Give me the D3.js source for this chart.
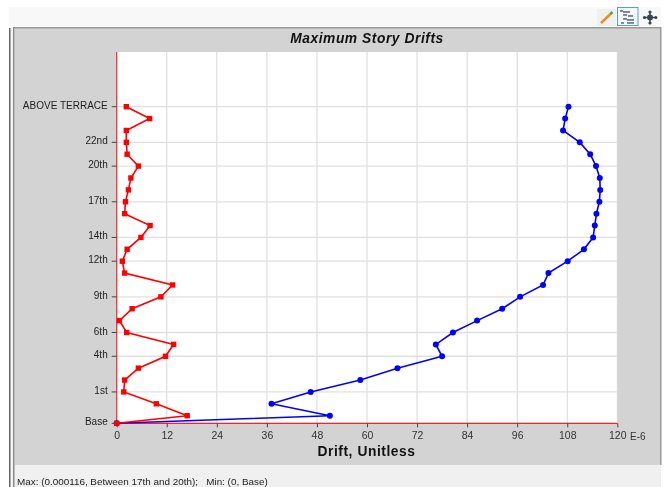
<!DOCTYPE html>
<html><head><meta charset="utf-8">
<script src="https://cdn.jsdelivr.net/npm/d3@7/dist/d3.min.js"></script>
<style>html,body{margin:0;padding:0;background:#fff;overflow:hidden}svg{display:block;font-family:"Liberation Sans",Arial,sans-serif;filter:blur(0.35px)}</style>
</head><body><svg id="c" width="667" height="487"></svg>
<script>
const title = "Maximum Story Drifts";
const xTitle = "Drift, Unitless";
const footer = "Max: (0.000116, Between 17th and 20th);   Min: (0, Base)";
const xTicks = [0,12,24,36,48,60,72,84,96,108,120];
// Story levels, bottom to top; elevation is in story heights
const elevations = [0,0.64,1.64,2.64,3.64,4.64,5.64,6.64,7.64,8.64,9.64,10.64,11.64,12.64,13.64,14.64,15.64,16.64,17.64,18.64,19.64,20.64,21.64,22.64,23.64,24.64,25.64,26.64];
const levelLabels = ["Base","","","1st","","","4th","","6th","","","9th","","","12th","","14th","","","17th","","","20th","","22nd","","","ABOVE TERRACE"];
const redDrift = [0,16.9,9.5,1.7,1.9,5.2,11.7,13.65,2.4,0.65,3.7,10.6,13.4,1.9,1.35,2.5,5.8,8.0,1.9,2.1,2.8,3.4,5.2,2.5,2.3,2.3,7.9,2.3];
const blueDrift = [0,51.1,37.1,46.5,58.4,67.3,78,76.5,80.6,86.4,92.4,96.7,102.2,103.5,108.1,112,114.2,114.6,115,115.7,115.9,115.8,114.9,113.5,111,107,107.5,108.3];

const svg = d3.select("#c");
const L=116.7,R=617.3,T=52,B=423.3;
const x=d3.scaleLinear().domain([0,120]).range([L,R]);
const y=d3.scaleLinear().domain([0,26.64]).range([B,106.7]);

// Window chrome
svg.append("rect").attr("x",9).attr("y",7).attr("width",652).attr("height",20).attr("fill","#f8f8f8");
svg.append("rect").attr("x",9).attr("y",27).attr("width",652).attr("height",460).attr("fill","#f4f4f4");
svg.append("rect").attr("x",15).attr("y",28).attr("width",646).attr("height",437).attr("fill","#d3d3d3");
svg.append("rect").attr("x",15).attr("y",465).attr("width",646).attr("height",22).attr("fill","#f0f0f0");
svg.append("rect").attr("x",9).attr("y",28).attr("width",1.5).attr("height",459).attr("fill","#666");
svg.append("rect").attr("x",13).attr("y",27).attr("width",648).attr("height",1.5).attr("fill","#999");
svg.append("rect").attr("x",13).attr("y",27).attr("width",1.5).attr("height",460).attr("fill","#888");
svg.append("rect").attr("x",660).attr("y",27).attr("width",1.5).attr("height",438).attr("fill","#999");

// Toolbar icons
const tb=svg.append("g");
tb.append("rect").attr("x",597).attr("y",9).attr("width",19).attr("height",17).attr("fill","#f0f0f0");
tb.append("line").attr("x1",601).attr("y1",23).attr("x2",610).attr("y2",14.5).attr("stroke","#e8921c").attr("stroke-width",2.6);
tb.append("line").attr("x1",610).attr("y1",14.5).attr("x2",612.5).attr("y2",12).attr("stroke","#7a9a50").attr("stroke-width",2.6);
tb.append("rect").attr("x",617.5).attr("y",7.5).attr("width",20.5).attr("height",18).attr("fill","#f2f7fc").attr("stroke","#5b9bd5").attr("stroke-width",1);
[[620,11,3],[623,12,7],[623,15,4],[628,16,5],[623,19,4],[627,20,7],[627,23,7],[621,23,3]].forEach(d=>tb.append("rect").attr("x",d[0]).attr("y",d[1]-0.8).attr("width",d[2]).attr("height",1.5).attr("fill","#55697d"));
tb.append("line").attr("x1",643.5).attr("y1",17.5).attr("x2",657).attr("y2",17.5).attr("stroke","#3a4450").attr("stroke-width",1.4);
tb.append("line").attr("x1",650).attr("y1",11).attr("x2",650).attr("y2",24).attr("stroke","#3a4450").attr("stroke-width",1.4);
[[650,17.5,3],[644.5,17.5,1.6],[655.8,17.5,1.6],[650,12,1.6],[650,23,1.6]].forEach(d=>tb.append("circle").attr("cx",d[0]).attr("cy",d[1]).attr("r",d[2]).attr("fill","#3a4450"));

// Plot
svg.append("rect").attr("x",L).attr("y",T).attr("width",R-L).attr("height",B-T).attr("fill","#fff");
const labelled=elevations.map((e,i)=>({e,l:levelLabels[i]})).filter(d=>d.l);
svg.append("g").selectAll("line").data(xTicks.slice(1)).join("line")
  .attr("x1",d=>x(d)).attr("x2",d=>x(d)).attr("y1",T).attr("y2",B).attr("stroke","#d8d8d8").attr("stroke-width",1);
svg.append("g").selectAll("line").data(labelled).join("line")
  .attr("x1",L).attr("x2",R).attr("y1",d=>y(d.e)).attr("y2",d=>y(d.e)).attr("stroke","#e0e0e0").attr("stroke-width",1.3);

// Axes
const xAxis=d3.axisBottom(x).tickValues(xTicks).tickSize(4).tickPadding(4);
const gx=svg.append("g").attr("transform",`translate(0,${B})`).call(xAxis);
gx.select(".domain").attr("stroke","#ff2020").attr("stroke-width",1.3).attr("d",`M${L},0H${R}`);
gx.selectAll(".tick line").attr("stroke","#444");
gx.selectAll("text").attr("font-size",10.5).attr("fill","#333").attr("font-family","Liberation Sans");
svg.append("line").attr("x1",L).attr("x2",L).attr("y1",T).attr("y2",B).attr("stroke","#ff3030").attr("stroke-width",1.3);
const gy=svg.append("g").attr("transform",`translate(${L},0)`);
gy.selectAll("line").data(labelled).join("line").attr("x1",-5).attr("x2",0).attr("y1",d=>y(d.e)).attr("y2",d=>y(d.e)).attr("stroke","#444");
gy.selectAll("text").data(labelled).join("text").attr("x",-9).attr("y",d=>y(d.e)).attr("dy","0.2em").attr("text-anchor","end").attr("font-size",10).attr("fill","#222").text(d=>d.l);

// Series
const line=()=>d3.line().x(v=>x(v)).y((v,i)=>y(elevations[i]));
svg.append("path").attr("d",line()(blueDrift)).attr("fill","none").attr("stroke","#0000ff").attr("stroke-width",1.6);
svg.append("g").selectAll("circle").data(blueDrift).join("circle").attr("cx",d=>x(d)).attr("cy",(d,i)=>y(elevations[i])).attr("r",3).attr("fill","#0000ff");
svg.append("path").attr("d",line()(redDrift)).attr("fill","none").attr("stroke","#ff0000").attr("stroke-width",1.6);
svg.append("g").selectAll("rect").data(redDrift).join("rect").attr("x",d=>x(d)-2.7).attr("y",(d,i)=>y(elevations[i])-2.7).attr("width",5.4).attr("height",5.4).attr("fill","#ff0000");

// Text
svg.append("text").attr("x",367).attr("y",43).attr("text-anchor","middle").attr("font-size",13.8).attr("font-weight","bold").attr("font-style","italic").attr("letter-spacing",0.55).attr("fill","#111").text(title);
svg.append("text").attr("x",366.5).attr("y",456).attr("text-anchor","middle").attr("font-size",13.8).attr("font-weight","bold").attr("letter-spacing",0.55).attr("fill","#111").text(xTitle);
svg.append("text").attr("x",630).attr("y",439.5).attr("font-size",10).attr("fill","#333").text("E-6");
svg.append("text").attr("x",17).attr("y",485).attr("font-size",9.9).attr("fill","#222").attr("xml:space","preserve").text(footer);
</script></body></html>
